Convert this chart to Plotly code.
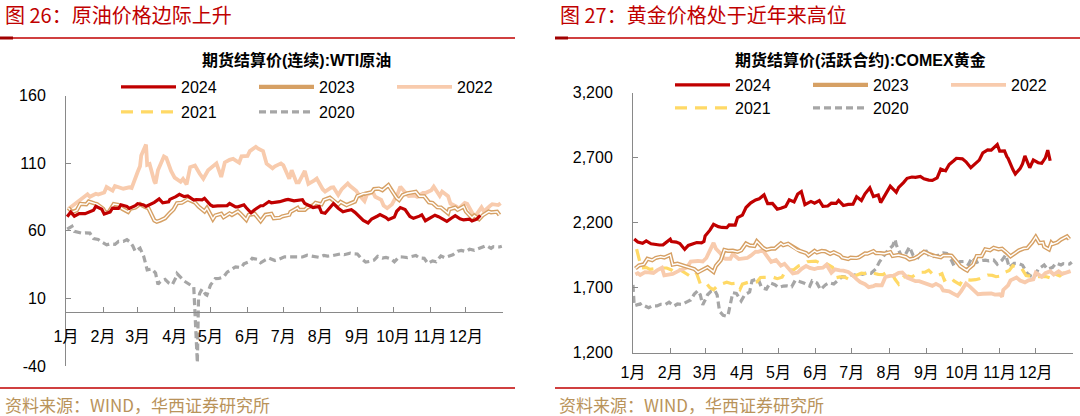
import plotly.graph_objects as go

FONT = "Liberation Sans, Arial, Noto Sans CJK SC, sans-serif"
CJK = "Noto Sans CJK SC, sans-serif"

# ---------------- text / ticks ----------------
header_left = "图 26：原油价格边际上升"
header_right = "图 27：黄金价格处于近年来高位"
title_left = "期货结算价(连续):WTI原油"
title_right = "期货结算价(活跃合约):COMEX黄金"
source_text = "资料来源：WIND，华西证券研究所"

month_starts = ["2024-01-01", "2024-02-01", "2024-03-01", "2024-04-01", "2024-05-01", "2024-06-01",
                "2024-07-01", "2024-08-01", "2024-09-01", "2024-10-01", "2024-11-01", "2024-12-01",
                "2025-01-01"]
month_labels = ["1月", "2月", "3月", "4月", "5月", "6月", "7月", "8月", "9月", "10月", "11月", "12月", ""]

wti_ticks = [-40, 10, 60, 110, 160]
wti_tick_labels = ["-40", "10", "60", "110", "160"]
gold_ticks = [1200, 1700, 2200, 2700, 3200]
gold_tick_labels = ["1,200", "1,700", "2,200", "2,700", "3,200"]

years = ["2024", "2023", "2022", "2021", "2020"]

# ---------------- WTI (USD/bbl), (MM-DD, value) ----------------
wti_2024 = [("01-02",70.4),("01-05",73.8),("01-08",70.8),("01-12",72.7),("01-17",72.6),("01-19",73.4),("01-24",75.1),("01-26",78.0),("01-31",75.9),
            ("02-02",72.3),("02-07",73.9),("02-09",76.8),("02-14",76.6),("02-16",79.2),("02-21",77.9),("02-23",76.5),("02-28",78.5),
            ("03-01",80.0),("03-06",79.1),("03-08",78.0),("03-13",79.7),("03-15",81.0),("03-19",83.5),("03-22",80.6),("03-27",81.4),("03-28",83.2),
            ("04-02",85.2),("04-05",86.9),("04-09",85.2),("04-12",85.7),("04-17",82.7),("04-19",83.1),("04-24",82.8),("04-26",83.9),
            ("05-01",79.0),("05-03",78.1),("05-07",78.4),("05-10",78.3),("05-15",78.6),("05-17",80.1),("05-22",77.6),("05-24",77.7),("05-29",79.2),("05-31",77.0),
            ("06-04",73.3),("06-07",75.5),("06-12",78.5),("06-14",78.5),("06-19",81.6),("06-21",80.7),("06-26",80.9),("06-28",81.5),
            ("07-03",82.8),("07-05",83.2),("07-10",82.1),("07-12",82.2),("07-17",82.9),("07-19",80.1),("07-24",77.6),("07-26",77.2),("07-31",77.9),
            ("08-02",73.5),("08-05",72.9),("08-09",76.8),("08-12",80.1),("08-16",76.7),("08-20",74.0),("08-23",74.8),("08-27",75.5),("08-30",73.6),
            ("09-04",69.2),("09-06",67.7),("09-10",65.8),("09-13",68.7),("09-18",70.9),("09-20",71.9),("09-25",69.7),("09-27",68.2),
            ("10-02",70.1),("10-04",74.4),("10-07",77.1),("10-11",75.6),("10-15",70.6),("10-18",69.2),("10-23",70.8),("10-25",71.8),("10-28",67.4),
            ("11-01",69.5),("11-05",71.5),("11-08",70.4),("11-13",68.4),("11-15",67.0),("11-19",69.4),("11-22",71.2),("11-26",68.8),("11-29",68.0),
            ("12-04",68.5),("12-06",67.2),("12-10",68.6),("12-13",71.3)]

wti_2023 = [("01-03",76.9),("01-06",73.8),("01-10",75.1),("01-13",79.9),("01-18",79.5),("01-20",81.6),("01-25",80.2),("01-27",79.7),
            ("02-01",76.4),("02-03",73.4),("02-06",74.1),("02-10",79.7),("02-14",79.1),("02-17",76.3),("02-22",73.9),("02-24",76.3),("02-28",77.1),
            ("03-03",79.7),("03-07",77.6),("03-10",76.7),("03-15",67.6),("03-17",66.7),("03-20",67.6),("03-24",69.3),("03-28",73.2),("03-31",75.7),
            ("04-03",80.4),("04-07",80.7),("04-12",83.3),("04-14",82.5),("04-18",80.9),("04-21",77.9),("04-26",74.3),("04-28",76.8),
            ("05-03",68.6),("05-05",71.3),("05-10",72.6),("05-12",70.0),("05-17",72.8),("05-19",71.7),("05-24",74.3),("05-26",72.7),("05-31",68.1),
            ("06-02",71.7),("06-07",72.5),("06-12",67.1),("06-16",71.8),("06-21",72.5),("06-23",69.2),("06-28",69.6),("06-30",70.6),
            ("07-06",71.8),("07-07",73.9),("07-13",76.9),("07-14",75.4),("07-19",75.4),("07-21",77.1),("07-26",78.8),("07-28",80.6),
            ("08-02",79.5),("08-04",82.8),("08-09",84.4),("08-11",83.2),("08-16",79.4),("08-18",81.3),("08-23",78.9),("08-25",79.8),("08-30",81.6),
            ("09-01",85.6),("09-06",87.5),("09-08",87.5),("09-13",88.5),("09-15",90.8),("09-19",91.2),("09-22",90.0),("09-27",93.7),("09-29",90.8),
            ("10-04",84.2),("10-06",82.8),("10-09",86.4),("10-13",87.7),("10-18",88.3),("10-20",88.8),("10-23",85.5),("10-27",85.5),("10-31",81.0),
            ("11-03",80.5),("11-07",77.4),("11-10",77.2),("11-16",72.9),("11-17",75.9),("11-22",77.1),("11-24",75.5),("11-29",77.9),
            ("12-01",74.1),("12-06",69.4),("12-08",71.2),("12-12",68.6),("12-15",71.4),("12-20",74.2),("12-22",73.6),("12-27",74.1),("12-29",71.7)]

wti_2022 = [("01-03",76.1),("01-07",78.9),("01-12",82.6),("01-14",83.8),("01-19",87.0),("01-21",85.1),("01-26",87.4),("01-28",86.8),
            ("02-02",88.3),("02-04",92.3),("02-09",89.7),("02-11",93.1),("02-15",92.1),("02-18",91.1),("02-23",92.1),("02-25",91.6),
            ("03-01",103.4),("03-03",107.7),("03-04",115.7),("03-08",123.7),("03-09",108.7),("03-11",109.3),("03-15",96.4),("03-16",95.0),
            ("03-18",104.7),("03-23",114.9),("03-25",113.9),("03-29",104.2),
            ("04-01",99.3),("04-06",96.2),("04-08",98.3),("04-11",94.3),("04-14",107.0),("04-18",108.2),("04-22",102.1),("04-25",98.5),("04-29",104.7),
            ("05-04",107.8),("05-06",109.8),("05-10",99.8),("05-13",110.5),("05-17",112.4),("05-20",113.2),("05-25",110.3),("05-27",115.1),
            ("06-01",115.3),("06-03",118.9),("06-08",122.1),("06-10",120.7),("06-14",118.9),("06-17",109.6),("06-22",106.2),("06-24",107.6),("06-29",109.8),
            ("07-01",108.4),("07-06",98.5),("07-08",104.8),("07-12",95.8),("07-14",95.8),("07-19",104.2),("07-22",94.7),("07-27",97.3),("07-29",98.6),
            ("08-03",90.7),("08-05",89.0),("08-10",91.9),("08-12",92.1),("08-16",86.5),("08-19",90.8),("08-24",95.0),("08-26",93.1),("08-31",89.6),
            ("09-02",86.9),("09-07",81.9),("09-09",86.8),("09-14",88.5),("09-16",85.1),("09-21",82.9),("09-23",78.7),("09-26",76.7),("09-30",79.5),
            ("10-05",87.8),("10-07",92.6),("10-12",87.3),("10-14",85.6),("10-19",86.0),("10-21",85.1),("10-26",87.9),("10-28",87.9),
            ("11-02",90.0),("11-04",92.6),("11-09",85.8),("11-11",89.0),("11-16",85.6),("11-18",80.1),("11-23",77.9),("11-25",76.3),("11-30",80.6),
            ("12-02",80.0),("12-07",72.0),("12-09",71.0),("12-14",77.3),("12-16",74.3),("12-21",78.3),("12-23",79.6),("12-28",79.0),("12-30",80.3)]

wti_2021 = []  # not drawn in the reference panel (legend entry only)

wti_2020 = [("01-02",61.2),("01-06",63.3),("01-08",59.6),("01-10",59.0),("01-14",58.2),("01-17",58.5),("01-21",58.3),("01-24",54.2),("01-28",53.5),("01-31",51.6),
            ("02-04",49.6),("02-07",50.3),("02-11",49.9),("02-14",52.1),("02-18",52.1),("02-21",53.4),("02-24",51.4),("02-26",48.7),("02-28",44.8),
            ("03-03",47.2),("03-06",41.3),("03-09",31.1),("03-13",31.7),("03-16",28.7),("03-18",20.4),("03-20",22.4),("03-24",24.0),("03-27",21.5),("03-30",20.1),
            ("04-02",25.3),("04-03",28.3),("04-09",22.8),("04-14",20.1),("04-17",18.3),("04-20",-37.6),("04-21",10.0),("04-22",13.8),("04-24",16.9),("04-27",12.8),("04-28",12.3),
            ("05-01",19.8),("05-05",24.6),("05-08",24.7),("05-12",25.8),("05-15",29.4),("05-19",32.0),("05-22",33.3),("05-27",32.8),("05-29",35.5),
            ("06-03",37.3),("06-05",39.6),("06-09",38.9),("06-12",36.3),("06-16",38.4),("06-19",39.8),("06-24",38.0),("06-26",38.5),
            ("07-02",40.7),("07-07",40.6),("07-10",40.6),("07-14",40.3),("07-17",40.6),("07-21",41.9),("07-24",41.3),("07-28",41.0),("07-31",40.3),
            ("08-04",41.7),("08-07",41.2),("08-11",41.6),("08-14",42.0),("08-18",42.9),("08-21",42.3),("08-26",43.4),("08-28",43.0),
            ("09-01",42.8),("09-04",39.8),("09-08",36.8),("09-11",37.3),("09-15",38.3),("09-18",41.1),("09-22",39.8),("09-25",40.3),("09-29",39.3),
            ("10-02",37.1),("10-06",40.7),("10-09",40.6),("10-13",40.2),("10-16",40.9),("10-20",41.7),("10-23",39.9),("10-27",39.6),("10-30",35.8),
            ("11-03",37.7),("11-06",37.1),("11-10",41.4),("11-13",40.1),("11-17",41.4),("11-20",42.2),("11-24",44.9),("11-27",45.5),
            ("12-01",44.6),("12-04",46.3),("12-08",45.6),("12-11",46.6),("12-15",47.6),("12-18",49.1),("12-22",47.0),("12-24",48.2),("12-29",48.0),("12-31",48.5)]

# ---------------- COMEX gold (USD/oz), (MM-DD, value) ----------------
gold_2024 = [("01-02",2073),("01-05",2050),("01-09",2040),("01-12",2058),("01-16",2036),("01-19",2031),("01-23",2027),("01-26",2028),("01-30",2052),
             ("02-01",2071),("02-02",2053),("02-06",2049),("02-09",2038),("02-13",1993),("02-16",2024),("02-20",2039),("02-23",2046),("02-27",2043),("02-29",2054),
             ("03-01",2096),("03-05",2141),("03-08",2186),("03-12",2168),("03-15",2162),("03-19",2160),("03-21",2181),("03-26",2180),("03-28",2238),
             ("04-01",2257),("04-04",2315),("04-08",2351),("04-12",2374),("04-15",2383),("04-19",2413),("04-22",2346),("04-26",2347),("04-30",2303),
             ("05-03",2309),("05-07",2323),("05-10",2375),("05-14",2358),("05-17",2419),("05-20",2438),("05-23",2337),("05-28",2362),("05-31",2348),
             ("06-04",2369),("06-07",2325),("06-11",2327),("06-14",2349),("06-18",2347),("06-20",2370),("06-24",2331),("06-28",2339),
             ("07-02",2340),("07-05",2398),("07-09",2369),("07-12",2421),("07-16",2467),("07-19",2400),("07-23",2412),("07-25",2353),("07-30",2427),
             ("08-02",2480),("08-07",2432),("08-09",2470),("08-13",2507),("08-16",2540),("08-20",2550),("08-23",2547),("08-27",2554),("08-30",2536),
             ("09-03",2526),("09-06",2524),("09-10",2543),("09-13",2611),("09-17",2597),("09-20",2646),("09-24",2677),("09-26",2694),
             ("10-01",2690),("10-04",2667),("10-08",2622),("10-10",2637),("10-15",2680),("10-18",2736),("10-22",2758),("10-25",2756),("10-30",2800),
             ("11-01",2749),("11-05",2750),("11-07",2706),("11-08",2694),("11-12",2607),("11-14",2573),("11-18",2614),("11-20",2651),("11-22",2712),("11-26",2621),("11-29",2681),
             ("12-03",2660),("12-06",2655),("12-09",2697),("12-11",2756),("12-13",2675)]

gold_2023 = [("01-03",1846),("01-06",1870),("01-10",1878),("01-13",1921),("01-17",1910),("01-20",1928),("01-24",1936),("01-27",1930),
             ("02-01",1951),("02-02",1917),("02-03",1876),("02-07",1883),("02-10",1874),("02-14",1865),("02-17",1851),("02-21",1842),("02-24",1817),("02-28",1836),
             ("03-03",1856),("03-08",1820),("03-10",1867),("03-14",1910),("03-17",1989),("03-20",1982),("03-24",1983),("03-28",1974),("03-31",1986),
             ("04-04",2038),("04-07",2024),("04-11",2019),("04-13",2055),("04-18",2007),("04-21",1990),("04-25",1999),("04-28",1999),
             ("05-03",2039),("05-05",2025),("05-09",2036),("05-12",2019),("05-16",1990),("05-19",1981),("05-24",1965),("05-26",1946),("05-31",1982),
             ("06-02",1969),("06-06",1981),("06-09",1978),("06-13",1958),("06-16",1971),("06-21",1949),("06-23",1930),("06-28",1919),("06-30",1929),
             ("07-05",1927),("07-07",1932),("07-12",1962),("07-14",1960),("07-19",1980),("07-21",1965),("07-25",1964),("07-28",1960),
             ("08-02",1972),("08-04",1942),("08-09",1950),("08-11",1946),("08-15",1935),("08-18",1916),("08-22",1924),("08-25",1940),("08-30",1975),
             ("09-01",1966),("09-06",1943),("09-08",1942),("09-13",1932),("09-15",1946),("09-20",1948),("09-22",1945),("09-27",1890),("09-29",1866),
             ("10-03",1841),("10-05",1831),("10-06",1845),("10-10",1876),("10-13",1942),("10-17",1942),("10-20",1994),("10-24",1987),("10-27",2006),("10-31",1994),
             ("11-03",1999),("11-07",1970),("11-10",1940),("11-14",1965),("11-17",1985),("11-21",2000),("11-24",2003),("11-28",2047),
             ("12-01",2089),("12-04",2042),("12-07",2046),("12-08",2014),("12-12",1993),("12-14",2044),("12-15",2034),("12-19",2047),("12-22",2069),("12-27",2093),("12-29",2071)]

gold_2022 = [("01-03",1801),("01-05",1810),("01-07",1797),("01-11",1818),("01-14",1817),("01-18",1812),("01-21",1832),("01-25",1852),("01-27",1793),("01-31",1797),
             ("02-03",1805),("02-08",1828),("02-11",1842),("02-15",1854),("02-18",1900),("02-22",1907),("02-24",1904),("02-28",1900),
             ("03-02",1927),("03-04",1966),("03-08",2043),("03-10",1998),("03-14",1960),("03-16",1928),("03-18",1921),("03-22",1921),("03-24",1958),("03-29",1919),
             ("04-01",1924),("04-05",1927),("04-08",1945),("04-12",1976),("04-14",1974),("04-18",1986),("04-21",1948),("04-25",1897),("04-29",1911),
             ("05-03",1868),("05-06",1882),("05-10",1839),("05-13",1808),("05-17",1815),("05-20",1842),("05-24",1866),("05-27",1851),("05-31",1842),
             ("06-03",1850),("06-07",1852),("06-10",1875),("06-14",1813),("06-17",1840),("06-21",1832),("06-24",1830),("06-28",1820),
             ("07-01",1801),("07-05",1764),("07-08",1742),("07-12",1725),("07-15",1703),("07-19",1711),("07-21",1719),("07-26",1717),("07-29",1781),
             ("08-02",1790),("08-05",1791),("08-09",1812),("08-12",1816),("08-16",1776),("08-19",1762),("08-23",1749),("08-26",1749),("08-30",1736),
             ("09-02",1721),("09-06",1713),("09-09",1728),("09-13",1709),("09-15",1677),("09-20",1671),("09-23",1655),("09-27",1636),("09-30",1672),
             ("10-04",1730),("10-07",1709),("10-11",1677),("10-14",1648),("10-18",1652),("10-21",1656),("10-25",1654),("10-28",1645),
             ("11-01",1648),("11-03",1630),("11-04",1681),("11-08",1716),("11-10",1755),("11-15",1777),("11-18",1754),("11-22",1740),("11-25",1755),("11-29",1763),
             ("12-01",1815),("12-02",1809),("12-06",1782),("12-09",1810),("12-13",1825),("12-16",1800),("12-20",1825),("12-23",1804),("12-28",1816),("12-30",1826)]

gold_2021 = [("01-04",1995),("01-06",1920),("01-08",1850),("01-12",1855),("01-15",1840),("01-19",1845),("01-22",1855),("01-26",1850),("01-29",1850),
             ("02-02",1835),("02-05",1813),("02-09",1838),("02-12",1823),("02-16",1796),("02-19",1777),("02-23",1806),("02-26",1728),
             ("03-02",1733),("03-05",1698),("03-08",1683),("03-12",1719),("03-16",1731),("03-19",1741),("03-23",1729),("03-26",1732),("03-30",1685),
             ("04-01",1726),("04-06",1741),("04-09",1744),("04-13",1743),("04-16",1777),("04-20",1778),("04-23",1777),("04-27",1778),("04-30",1768),
             ("05-04",1779),("05-07",1831),("05-11",1836),("05-14",1838),("05-18",1867),("05-21",1876),("05-25",1898),("05-28",1902),
             ("06-01",1903),("06-04",1891),("06-08",1893),("06-11",1877),("06-15",1856),("06-17",1773),("06-21",1782),("06-25",1781),("06-29",1761),
             ("07-02",1783),("07-06",1796),("07-09",1810),("07-13",1807),("07-16",1815),("07-20",1808),("07-23",1801),("07-27",1799),("07-30",1817),
             ("08-03",1813),("08-06",1763),("08-09",1726),("08-13",1779),("08-17",1788),("08-20",1781),("08-24",1806),("08-27",1817),("08-31",1818),
             ("09-03",1833),("09-07",1796),("09-10",1791),("09-14",1806),("09-16",1756),("09-21",1778),("09-24",1751),("09-29",1723),
             ("10-01",1758),("10-05",1760),("10-08",1757),("10-12",1760),("10-15",1767),("10-19",1784),("10-22",1796),("10-26",1793),("10-29",1783),
             ("11-02",1789),("11-05",1816),("11-09",1831),("11-12",1868),("11-16",1853),("11-19",1852),("11-23",1792),("11-26",1788),("11-30",1776),
             ("12-03",1783),("12-07",1785),("12-10",1783),("12-14",1771),("12-15",1765),("12-17",1804),("12-21",1789),("12-24",1811),("12-28",1810),("12-31",1828)]

gold_2020 = [("01-01",1720),("01-02",1560),("01-07",1574),("01-08",1560),("01-10",1562),("01-14",1544),("01-17",1560),("01-21",1558),("01-24",1571),("01-28",1569),("01-31",1587),
             ("02-04",1557),("02-07",1573),("02-11",1570),("02-14",1586),("02-18",1604),("02-21",1649),("02-24",1676),("02-26",1643),("02-28",1566),
             ("03-03",1644),("03-06",1672),("03-09",1679),("03-11",1642),("03-13",1516),("03-16",1486),("03-19",1478),("03-20",1484),("03-24",1660),("03-27",1654),("03-31",1597),
             ("04-03",1645),("04-07",1665),("04-09",1752),("04-14",1768),("04-17",1698),("04-21",1688),("04-24",1735),("04-28",1722),
             ("05-01",1700),("05-05",1711),("05-08",1713),("05-12",1706),("05-15",1756),("05-19",1745),("05-22",1735),("05-27",1710),("05-29",1751),
             ("06-02",1734),("06-05",1683),("06-09",1720),("06-12",1737),("06-16",1727),("06-19",1753),("06-23",1783),("06-26",1780),("06-30",1800),
             ("07-02",1790),("07-07",1810),("07-10",1801),("07-14",1814),("07-17",1810),("07-21",1843),("07-24",1897),("07-28",1944),("07-31",1986),
             ("08-04",2021),("08-06",2070),("08-07",2028),("08-11",1946),("08-14",1944),("08-18",2013),("08-21",1947),("08-25",1929),("08-28",1975),
             ("09-01",1979),("09-04",1934),("09-08",1944),("09-11",1947),("09-15",1966),("09-18",1962),("09-22",1907),("09-24",1868),("09-29",1899),
             ("10-02",1900),("10-06",1877),("10-09",1930),("10-13",1894),("10-16",1906),("10-20",1911),("10-23",1905),("10-27",1911),("10-30",1879),
             ("11-03",1910),("11-06",1951),("11-09",1854),("11-13",1886),("11-17",1884),("11-20",1872),("11-24",1808),("11-27",1788),("11-30",1780),
             ("12-03",1841),("12-08",1873),("12-11",1840),("12-15",1855),("12-18",1888),("12-22",1873),("12-24",1883),("12-29",1880),("12-31",1895)]

wti_series = {"2024": wti_2024, "2023": wti_2023, "2022": wti_2022, "2021": wti_2021, "2020": wti_2020}
gold_series = {"2024": gold_2024, "2023": gold_2023, "2022": gold_2022, "2021": gold_2021, "2020": gold_2020}

styles = {
    "2024": dict(color="#C00000", width=3.2, dash="solid"),
    "2023": dict(color="#D6A064", width=4.2, dash="solid"),
    "2022": dict(color="#F8CBAD", width=3.8, dash="solid"),
    "2021": dict(color="#FFD966", width=3.2, dash="12px,8px"),
    "2020": dict(color="#A6A6A6", width=3.2, dash="7px,4px"),
}
draw_order = ["2020", "2021", "2022", "2023", "2024"]
rank = {y: i + 1 for i, y in enumerate(years)}

W, H = 1080, 416

def px_x(p):
    return p / W

def px_y(p):
    return 1 - p / H

fig = go.Figure()

def add_panel(series, xa, ya, leg_row1, leg_row2):
    for yr in draw_order:
        pts = series[yr]
        xs = ["2024-" + d for d, _ in pts]
        vs = [v for _, v in pts]
        st = styles[yr]
        leg = leg_row1 if yr in ("2024", "2023", "2022") else leg_row2
        if len(xs) == 0:
            xs, vs = ["2024-01-01"], [None]
        extra = {}
        if yr in ("2022", "2020"):
            extra["legendwidth"] = 45   # last entry of a legend row
        fig.add_trace(go.Scatter(
            x=xs, y=vs, mode="lines", name=yr, xaxis=xa, yaxis=ya, legend=leg,
            legendrank=rank[yr], hoverinfo="skip",
            line=dict(color=st["color"], width=st["width"], dash=st["dash"]), **extra
        ))
        if yr == "2023":
            fig.add_trace(go.Scatter(
                x=xs, y=vs, mode="lines", name=yr, xaxis=xa, yaxis=ya,
                showlegend=False, hoverinfo="skip",
                line=dict(color="#FFFFFF", width=1.4),
            ))

add_panel(wti_series, "x", "y", "legend", "legend2")
add_panel(gold_series, "x2", "y2", "legend3", "legend4")

axis_col = "#898989"
tickfont = dict(family=FONT, size=16, color="#000000")

# panel geometry (pixels)
L_x0, L_x1, L_top, L_bot = 66, 503, 95.5, 366
R_x0, R_x1, R_top, R_bot = 633, 1073, 92.5, 352.5
ly_dom = [px_y(L_bot), px_y(L_top)]
ry_dom = [px_y(R_bot), px_y(R_top)]
wti_range = [wti_ticks[0], wti_ticks[-1]]
zero_pos = ly_dom[0] + (0 - wti_range[0]) / (wti_range[1] - wti_range[0]) * (ly_dom[1] - ly_dom[0])

common_x = dict(type="date", range=[month_starts[0], month_starts[-1]], tickmode="array",
                tickvals=month_starts, ticktext=month_labels, ticks="inside", ticklen=5,
                tickcolor=axis_col, showline=True, linecolor=axis_col, linewidth=1,
                showgrid=False, zeroline=False, tickfont=tickfont,
                tickangle=0, automargin=False, fixedrange=True)
common_y = dict(tickmode="array", ticks="inside", ticklen=5, tickcolor=axis_col,
                showline=True, linecolor=axis_col, linewidth=1, showgrid=False,
                zeroline=False, tickfont=tickfont, ticklabelstandoff=16,
                automargin=False, fixedrange=True)

fig.update_layout(
    width=W, height=H, autosize=False,
    margin=dict(l=0, r=0, t=0, b=0, pad=0, autoexpand=False),
    paper_bgcolor="white", plot_bgcolor="white",
    xaxis=dict(common_x, domain=[px_x(L_x0), px_x(L_x1)], anchor="free", position=zero_pos,
               ticklabelstandoff=10),
    yaxis=dict(common_y, domain=ly_dom, range=wti_range, tickvals=wti_ticks,
               ticktext=wti_tick_labels, anchor="x"),
    xaxis2=dict(common_x, domain=[px_x(R_x0), px_x(R_x1)], anchor="y2", ticklabelstandoff=5),
    yaxis2=dict(common_y, domain=ry_dom, range=[gold_ticks[0], gold_ticks[-1]],
                tickvals=gold_ticks, ticktext=gold_tick_labels, anchor="x2"),
    showlegend=True,
)

def legend_cfg(x_px, y_px):
    return dict(orientation="h", x=px_x(x_px), y=px_y(y_px), xanchor="left", yanchor="middle",
                font=dict(family=FONT, size=16, color="#000000"), itemwidth=55,
                entrywidth=68, entrywidthmode="pixels", bgcolor="rgba(0,0,0,0)",
                borderwidth=0, itemclick=False, itemdoubleclick=False, traceorder="normal")

LEG_L, LEG_R = 116, 670
ROW_L, ROW_R = (87, 112), (85, 108)
fig.update_layout(
    legend=legend_cfg(LEG_L, ROW_L[0]),
    legend2=legend_cfg(LEG_L, ROW_L[1]),
    legend3=legend_cfg(LEG_R, ROW_R[0]),
    legend4=legend_cfg(LEG_R, ROW_R[1]),
)

red = "#C00000"
annos = [
    dict(text=header_left, x=px_x(3), y=px_y(15), xanchor="left", yanchor="middle",
         font=dict(family=CJK, size=20, color=red)),
    dict(text=header_right, x=px_x(558), y=px_y(15), xanchor="left", yanchor="middle",
         font=dict(family=CJK, size=20, color=red)),
    dict(text="<b>" + title_left + "</b>", x=px_x(296), y=px_y(60), xanchor="center", yanchor="middle",
         font=dict(family=FONT, size=16, color="#000000")),
    dict(text="<b>" + title_right + "</b>", x=px_x(860), y=px_y(60), xanchor="center", yanchor="middle",
         font=dict(family=FONT, size=16, color="#000000")),
    dict(text=source_text, x=px_x(3), y=px_y(404), xanchor="left", yanchor="middle",
         font=dict(family=CJK, size=17, color="#B9935A")),
    dict(text=source_text, x=px_x(557), y=px_y(404), xanchor="left", yanchor="middle",
         font=dict(family=CJK, size=17, color="#B9935A")),
]
for a in annos:
    a.update(xref="paper", yref="paper", showarrow=False)
fig.update_layout(annotations=annos)

shapes = []
for (x0, x1) in [(0, 515), (555, 1080)]:
    for yy in (38, 388):
        shapes.append(dict(type="line", xref="paper", yref="paper", x0=px_x(x0), x1=px_x(x1),
                           y0=px_y(yy), y1=px_y(yy), line=dict(color=red, width=1.6)))
    shapes.append(dict(type="rect", xref="paper", yref="paper", x0=px_x(x0), x1=px_x(x0 + 13),
                       y0=px_y(39.5), y1=px_y(36.5), line=dict(width=0), fillcolor="#A00000"))
# white core on the 2023 legend swatches (double-line look); second legend slot
ITEM_STEP = 55 + 10 + 68 + 5
for lx, ly in ((LEG_L, ROW_L[0]), (LEG_R, ROW_R[0])):
    sx = lx + 5 + ITEM_STEP
    shapes.append(dict(type="line", xref="paper", yref="paper", x0=px_x(sx + 2), x1=px_x(sx + 53),
                       y0=px_y(ly), y1=px_y(ly), line=dict(color="#FFFFFF", width=1.4)))
fig.update_layout(shapes=shapes)

fig.write_html("out.html", config={"displayModeBar": False, "staticPlot": True})
